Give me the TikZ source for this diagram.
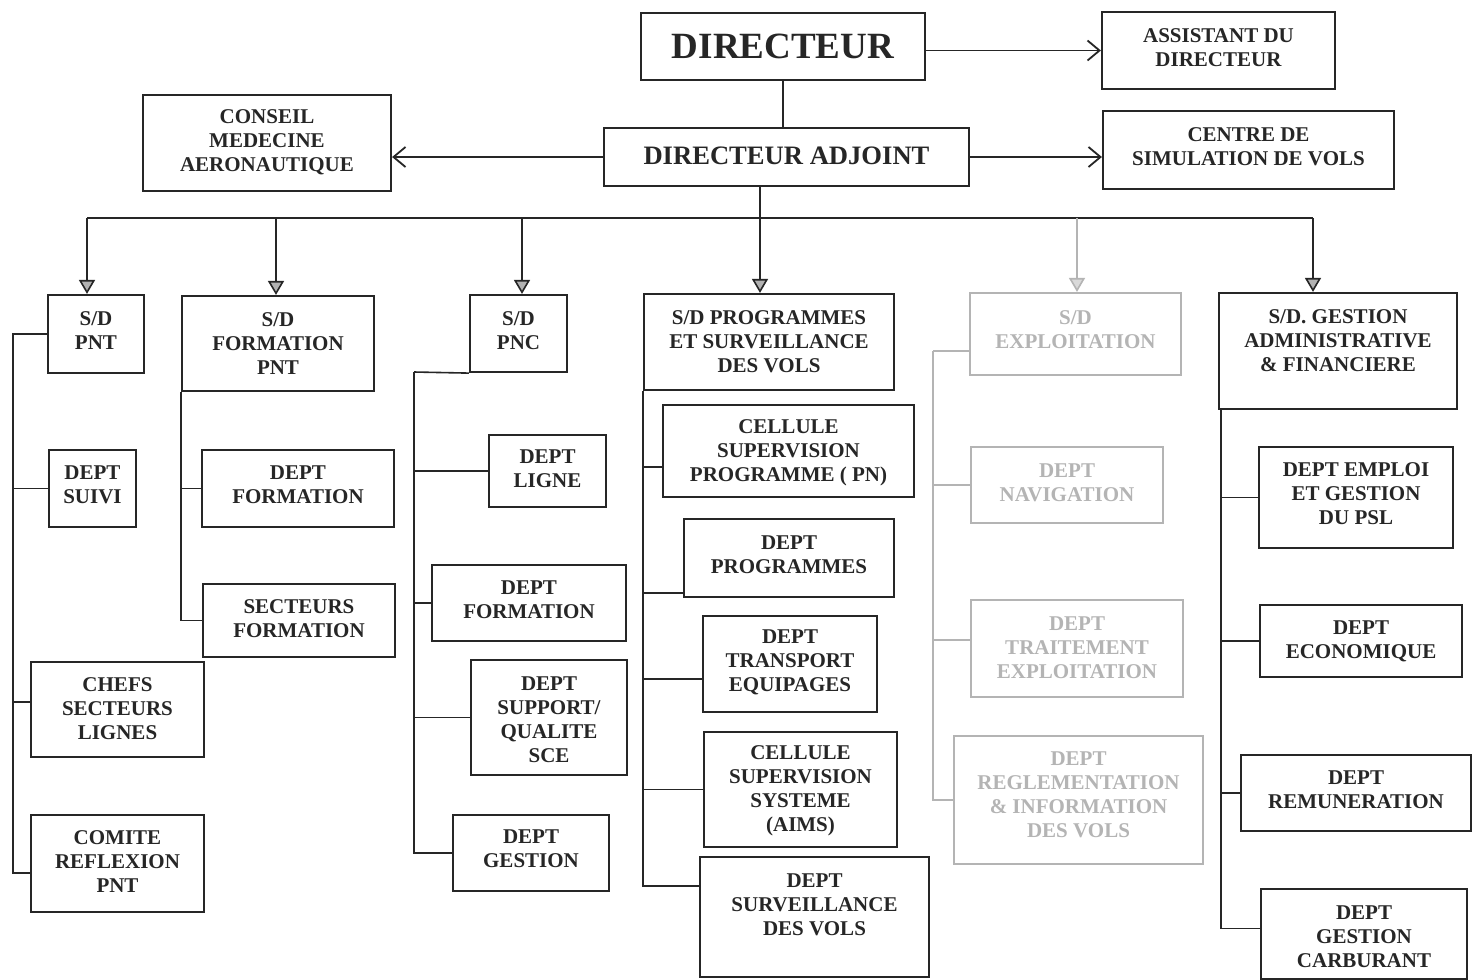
\documentclass[tikz,border=0pt]{standalone}
\usepackage{fontspec}
\setmainfont{Liberation Serif}
\usetikzlibrary{arrows.meta,fit}
\definecolor{ink}{HTML}{262626}
\definecolor{faint}{HTML}{B4B4B4}

\tikzset{
  boxframe/.style={draw=ink, line width=1.1pt, inner sep=0pt},
  boxtext/.style={text=ink, font=\bfseries\fontsize{10.5}{12}\selectfont, align=center, inner sep=0pt},
  faded/.style={draw=faint, text=faint},
  conn/.style={draw=ink, line width=0.8pt},
  fadedconn/.style={draw=faint, line width=0.8pt},
  side/.style={conn, -{Straight Barb[length=6pt,width=10pt,line width=0.9pt]}},
  drop/.style={conn, -{Triangle[length=7pt,width=8pt,fill=gray!60]}},
  fadeddrop/.style={fadedconn, -{Triangle[length=7pt,width=8pt,fill=faint!50]}},
}

% \orgbox[style]{name}{x1}{y1}{x2}{y2}{text centre y}{text}
\newcommand\orgbox[8][]{%
  \node[boxframe,#1,fit={(#3,#4) (#5,#6)}] (#2) {};
  \node[boxtext,#1,draw=none] (#2-t) at ({(#3+#5)/2},#7) {#8};}

\begin{document}
\begin{tikzpicture}[x=0.5pt,y=-0.5pt]
\fill[white] (0,0) rectangle (1479,980);
\useasboundingbox (0,0) rectangle (1479,980);

% direction
\orgbox{dir}{641}{13}{925}{80}{46}{\fontsize{18.5}{20}\selectfont DIRECTEUR}
\orgbox{asst}{1102}{12}{1335}{89}{48}{ASSISTANT DU\\DIRECTEUR}
\orgbox{conseil}{143}{95}{391}{191}{142}{CONSEIL\\MEDECINE\\AERONAUTIQUE}
\orgbox{adj}{604}{128}{969}{186}{156}{\fontsize{13.3}{15}\selectfont DIRECTEUR ADJOINT}
\orgbox{centre}{1103}{111}{1394}{189}{147}{CENTRE DE\\SIMULATION DE VOLS}

% S/D PNT
\orgbox{pnt}{48}{295}{144}{373}{331}{S/D\\PNT}
\orgbox{suivi}{49}{450}{136}{527}{485}{DEPT\\SUIVI}
\orgbox{chefs}{31}{662}{204}{757}{709}{CHEFS\\SECTEURS\\LIGNES}
\orgbox{comite}{31}{815}{204}{912}{862}{COMITE\\REFLEXION\\PNT}

% S/D formation PNT
\orgbox{fpnt}{182}{296}{374}{391}{344}{S/D\\FORMATION\\PNT}
\orgbox{dform}{202}{450}{394}{527}{485}{DEPT\\FORMATION}
\orgbox{secteurs}{203}{584}{395}{657}{619}{SECTEURS\\FORMATION}

% S/D PNC
\orgbox{pnc}{470}{295}{567}{372}{331}{S/D\\PNC}
\orgbox{ligne}{489}{435}{606}{507}{469}{DEPT\\LIGNE}
\orgbox{cform}{432}{565}{626}{641}{600}{DEPT\\FORMATION}
\orgbox{support}{471}{660}{627}{775}{720}{DEPT\\SUPPORT/\\QUALITE\\SCE}
\orgbox{cgest}{453}{815}{609}{891}{849}{DEPT\\GESTION}

% S/D programmes
\orgbox{prog}{644}{294}{894}{390}{342}{S/D PROGRAMMES\\ET SURVEILLANCE\\DES VOLS}
\orgbox{cpn}{663}{405}{914}{497}{453}{CELLULE\\SUPERVISION\\PROGRAMME ( PN)}
\orgbox{dprog}{684}{519}{894}{597}{555}{DEPT\\PROGRAMMES}
\orgbox{transp}{703}{616}{877}{712}{662}{DEPT\\TRANSPORT\\EQUIPAGES}
\orgbox{aims}{704}{732}{897}{847}{791}{CELLULE\\SUPERVISION\\SYSTEME\\(AIMS)}
\orgbox{surv}{700}{857}{929}{977}{905}{DEPT\\SURVEILLANCE\\DES VOLS}

% S/D exploitation
\orgbox[faded]{expl}{970}{293}{1181}{375}{330}{S/D\\EXPLOITATION}
\orgbox[faded]{nav}{971}{447}{1163}{523}{483}{DEPT\\NAVIGATION}
\orgbox[faded]{trait}{971}{600}{1183}{697}{648}{DEPT\\TRAITEMENT\\EXPLOITATION}
\orgbox[faded]{regl}{954}{736}{1203}{864}{795}{DEPT\\REGLEMENTATION\\\& INFORMATION\\DES VOLS}

% S/D gestion administrative
\orgbox{gaf}{1219}{293}{1457}{409}{341}{S/D. GESTION\\ADMINISTRATIVE\\\& FINANCIERE}
\orgbox{emploi}{1259}{447}{1453}{548}{494}{DEPT EMPLOI\\ET GESTION\\DU PSL}
\orgbox{eco}{1260}{605}{1462}{677}{641}{DEPT\\ECONOMIQUE}
\orgbox{remu}{1241}{755}{1471}{831}{790}{DEPT\\REMUNERATION}
\orgbox{carb}{1261}{889}{1467}{979}{937}{DEPT\\GESTION\\CARBURANT}

% top links
\draw[conn] (dir.south) -- (dir.south |- adj.north);
\draw[side] (dir.east |- asst.west) -- (asst.west);
\draw[side] (adj.west) -- (adj.west -| conseil.east);
\draw[side] (adj.east) -- (adj.east -| centre.west);

% distribution bus
\coordinate (b1) at (87,218);
\coordinate (b2) at (276,218);
\coordinate (b3) at (522,218);
\coordinate (b4) at (760,218);
\coordinate (b5) at (1077,218);
\coordinate (b6) at (1313,218);
\draw[conn] (b1) -- (b6);
\draw[drop] (adj.south -| b4) -- (b4 |- prog.north);
\draw[drop] (b1) -- (b1 |- pnt.north);
\draw[drop] (b2) -- (b2 |- fpnt.north);
\draw[drop] (b3) -- (b3 |- pnc.north);
\draw[fadeddrop] (b5) -- (b5 |- expl.north);
\draw[drop] (b6) -- (b6 |- gaf.north);

% branches S/D PNT
\coordinate (s1) at (13,335);
\draw[conn] (pnt.west) -| (s1);
\draw[conn] (suivi.west) -| (s1);
\draw[conn] ([yshift=3.75pt]chefs.west) -| (s1);
\draw[conn] ([yshift=-4.75pt]comite.west) -| (s1);

% branches S/D formation PNT
\draw[conn] (dform.west) -| (fpnt.south west);
\draw[conn] (secteurs.west) -| (fpnt.south west);

% branches S/D PNC
\coordinate (s3) at (414,372);
\draw[conn] (pnc.south west) -- (s3);
\draw[conn] (ligne.west) -| (s3);
\draw[conn] (cform.west) -| (s3);
\draw[conn] (support.west) -| (s3);
\draw[conn] (cgest.west) -| (s3);

% branches S/D programmes
\draw[conn] ([yshift=-8pt]cpn.west) -| (prog.south west);
\draw[conn] ([yshift=-17.5pt]dprog.west) -| (prog.south west);
\draw[conn] ([yshift=-7.5pt]transp.west) -| (prog.south west);
\draw[conn] (aims.west) -| (prog.south west);
\draw[conn] ([yshift=15.5pt]surv.west) -| (prog.south west);

% branches S/D exploitation
\coordinate (s5) at (933,351);
\draw[fadedconn] ([yshift=-8.5pt]expl.west) -- (s5);
\draw[fadedconn] (nav.west) -| (s5);
\draw[fadedconn] ([yshift=4.25pt]trait.west) -| (s5);
\draw[fadedconn] (regl.west) -| (s5);

% branches S/D gestion administrative
\coordinate (s6) at ([xshift=1.5pt]gaf.south west);
\draw[conn] (emploi.west) -| (s6);
\draw[conn] (eco.west) -| (s6);
\draw[conn] (remu.west) -| (s6);
\draw[conn] ([yshift=2.75pt]carb.west) -| (s6);
\end{tikzpicture}
\end{document}
